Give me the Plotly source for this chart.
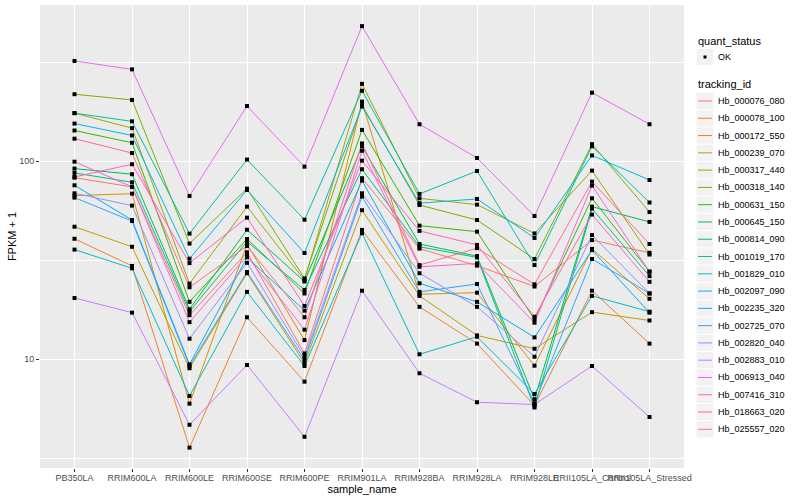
import plotly.graph_objects as go

samples = ["PB350LA", "RRIM600LA", "RRIM600LE", "RRIM600SE", "RRIM600PE", "RRIM901LA",
           "RRIM928BA", "RRIM928LA", "RRIM928LE", "RRII105LA_Control", "RRII105LA_Stressed"]

tracking_ids = ["Hb_000076_080", "Hb_000078_100", "Hb_000172_550", "Hb_000239_070", "Hb_000317_440",
                "Hb_000318_140", "Hb_000631_150", "Hb_000645_150", "Hb_000814_090", "Hb_001019_170",
                "Hb_001829_010", "Hb_002097_090", "Hb_002235_320", "Hb_002725_070", "Hb_002820_040",
                "Hb_002883_010", "Hb_006913_040", "Hb_007416_310", "Hb_018663_020", "Hb_025557_020"]

quant_status = ["OK"]

# FPKM + 1 values, one list per tracking_id, in sample order
hb_000076_080 = [82.6, 74.2, 16.7, 34.7, 10.7, 82.1, 36.2, 29.7, 23.3, 40.0, 34.5]
hb_000078_100 = [40.6, 29.6, 3.58, 16.3, 7.71, 45.0, 18.4, 12.0, 5.84, 22.2, 12.0]
hb_000172_550 = [67.0, 68.6, 5.97, 38.1, 12.5, 200, 21.3, 21.7, 9.28, 36.1, 20.2]
hb_000239_070 = [46.7, 37.0, 9.01, 27.2, 9.54, 56.6, 20.9, 13.2, 11.3, 17.3, 15.7]
hb_000317_440 = [175, 147, 24.1, 59.0, 25.1, 246, 65.0, 60.4, 43.2, 89.7, 33.8]
hb_000318_140 = [218, 204, 38.4, 72.7, 25.6, 192, 60.1, 50.5, 32.1, 122, 55.4]
hb_000631_150 = [143, 124, 19.5, 40.5, 21.5, 144, 47.3, 44.1, 15.9, 65.0, 27.7]
hb_000645_150 = [91.8, 86.0, 17.9, 45.1, 24.7, 119, 38.2, 33.2, 6.28, 59.0, 49.4]
hb_000814_090 = [87.3, 78.3, 17.4, 39.3, 22.4, 91.1, 37.0, 32.7, 5.71, 57.6, 26.3]
hb_001019_170 = [175, 159, 43.1, 102, 50.7, 227, 68.4, 89.3, 29.9, 119, 61.9]
hb_001829_010 = [35.8, 28.8, 6.53, 21.9, 9.25, 43.3, 10.6, 13.0, 6.68, 20.9, 17.4]
hb_002097_090 = [155, 135, 32.2, 71.6, 34.4, 189, 61.4, 64.5, 41.0, 107, 80.4]
hb_002235_320 = [75.6, 50.5, 9.43, 32.7, 17.6, 79.8, 24.2, 19.5, 12.9, 35.6, 17.2]
hb_002725_070 = [65.5, 49.9, 9.25, 27.6, 9.92, 66.3, 21.9, 24.0, 6.0, 32.1, 21.5]
hb_002820_040 = [68.9, 59.7, 12.7, 30.7, 10.3, 68.9, 27.2, 18.4, 10.3, 42.4, 21.5]
hb_002883_010 = [20.4, 17.2, 4.67, 9.36, 4.06, 22.2, 8.50, 6.07, 5.91, 9.25, 5.11]
hb_006913_040 = [321, 291, 66.8, 190, 93.9, 481, 153.8, 103.9, 52.9, 222, 153.8]
hb_007416_310 = [99.5, 74.2, 15.4, 33.2, 14.1, 113, 29.3, 30.5, 15.3, 75.3, 27.7]
hb_018663_020 = [83.3, 96.6, 30.6, 51.9, 18.6, 100.7, 44.5, 37.8, 16.4, 53.8, 24.6]
hb_025557_020 = [130, 110, 23.1, 37.3, 16.3, 123, 29.9, 36.4, 23.9, 78.9, 38.2]

series_values = [hb_000076_080, hb_000078_100, hb_000172_550, hb_000239_070, hb_000317_440,
                 hb_000318_140, hb_000631_150, hb_000645_150, hb_000814_090, hb_001019_170,
                 hb_001829_010, hb_002097_090, hb_002235_320, hb_002725_070, hb_002820_040,
                 hb_002883_010, hb_006913_040, hb_007416_310, hb_018663_020, hb_025557_020]

colors = ["#F8766D", "#EA8331", "#D89000", "#C09B00", "#A3A500", "#7CAE00", "#39B600", "#00BB4E",
          "#00BF7D", "#00C1A3", "#00BFC4", "#00BAE0", "#00B0F6", "#35A2FF", "#9590FF", "#C77CFF",
          "#E76BF3", "#FA62DB", "#FF62BC", "#FF6C91"]

FONT = "Liberation Sans"
W, H = 800, 500
ML, MR, MT, MB = 40, 116, 5, 32
PW, PH = W - ML - MR, H - MT - MB


def pxx(px):
    return (px - ML) / PW


def pxy(py):
    return (H - MB - py) / PH


fig = go.Figure()

for i, (name, vals) in enumerate(zip(tracking_ids, series_values)):
    fig.add_trace(go.Scatter(
        x=samples, y=vals, mode="lines", name=name,
        line=dict(color=colors[i], width=1),
        showlegend=False, hoverinfo="skip",
    ))

all_x, all_y = [], []
for vals in series_values:
    all_x.extend(samples)
    all_y.extend(vals)

fig.add_trace(go.Scatter(
    x=all_x, y=all_y, mode="markers", name=quant_status[0],
    marker=dict(color="black", size=4, symbol="square"),
    showlegend=False,
))

# ---- ggplot-style legend drawn in paper coordinates ----
shapes, annotations = [], []
KEY_L, KEY_R, KEY_H = 696.5, 713.5, 17.28
TEXT_X = 715.5


def add_title(text, py):
    annotations.append(dict(text=text, x=pxx(695.5), y=pxy(py), xref="paper", yref="paper",
                            xanchor="left", yanchor="middle", showarrow=False,
                            font=dict(size=11, family=FONT, color="black")))


def add_label(text, py):
    annotations.append(dict(text=text, x=pxx(TEXT_X), y=pxy(py), xref="paper", yref="paper",
                            xanchor="left", yanchor="middle", showarrow=False,
                            font=dict(size=9, family=FONT, color="black")))


def add_key(py):
    shapes.append(dict(type="rect", xref="paper", yref="paper",
                       x0=pxx(KEY_L), x1=pxx(KEY_R), y0=pxy(py - KEY_H / 2 + 0.5), y1=pxy(py + KEY_H / 2 - 0.5),
                       fillcolor="#F2F2F2", line=dict(width=0), layer="above"))


add_title("quant_status", 41)
add_key(57)
shapes.append(dict(type="rect", xref="paper", yref="paper",
                   x0=pxx(703.5), x1=pxx(706.5), y0=pxy(58.5), y1=pxy(55.5),
                   fillcolor="black", line=dict(width=0), layer="above"))
add_label(quant_status[0], 57)

add_title("tracking_id", 84.5)
for i, name in enumerate(tracking_ids):
    cy = 101 + KEY_H * i
    add_key(cy)
    shapes.append(dict(type="line", xref="paper", yref="paper",
                       x0=pxx(698), x1=pxx(712), y0=pxy(cy), y1=pxy(cy),
                       line=dict(color=colors[i], width=1), layer="above"))
    add_label(name, cy)

fig.update_layout(
    width=W, height=H,
    margin=dict(l=ML, r=MR, t=MT, b=MB),
    paper_bgcolor="white",
    plot_bgcolor="#EBEBEB",
    font=dict(family=FONT, size=9, color="black"),
    showlegend=False,
    shapes=shapes,
    annotations=annotations,
    xaxis=dict(
        type="category", categoryorder="array", categoryarray=samples,
        range=[-0.6, len(samples) - 0.4],
        showgrid=True, gridcolor="white", gridwidth=1.1,
        ticks="outside", ticklen=3, tickcolor="#333333", tickwidth=1, tickangle=0,
        ticklabelstandoff=-2,
        tickfont=dict(size=9, color="#4D4D4D", family=FONT),
        title=dict(text="sample_name", font=dict(size=11, family=FONT, color="black"), standoff=0),
        zeroline=False, showline=False, automargin=False,
    ),
    yaxis=dict(
        type="log", range=[0.451, 2.789],
        tickmode="array", tickvals=[10, 100], ticktext=["10", "100"],
        showgrid=True, gridcolor="white", gridwidth=1.1,
        minor=dict(tickmode="array", tickvals=[3.1623, 31.623, 316.23], showgrid=True,
                   gridcolor="white", gridwidth=0.55, ticklen=0),
        ticks="outside", ticklen=3, tickcolor="#333333", tickwidth=1,
        tickfont=dict(size=9, color="#4D4D4D", family=FONT),
        title=dict(text="FPKM + 1", font=dict(size=11, family=FONT, color="black"), standoff=0),
        zeroline=False, showline=False, automargin=False,
    ),
)

fig.write_html("out.html", config={"displayModeBar": False},
               post_script="document.body.style.margin='0px';")
